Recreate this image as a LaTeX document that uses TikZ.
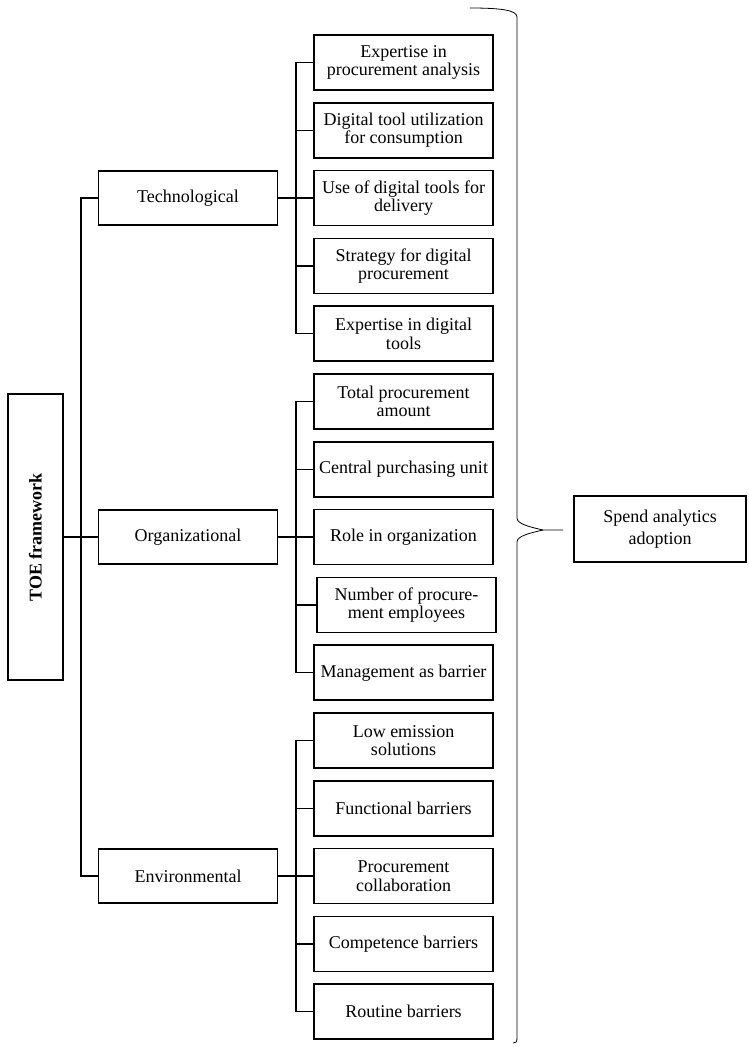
\documentclass[tikz,border=0pt]{standalone}
\usepackage{fontspec}
\setmainfont{Liberation Serif}
\usepackage{tikz}
\usetikzlibrary{positioning,calc}
\tikzset{
    leaf/.style={draw,line width=1.5pt,rectangle,minimum width=179pt,minimum height=55pt,inner xsep=1pt,align=center,font=\fontsize{18}{18.5}\selectfont},
    mid/.style={draw,line width=1.5pt,rectangle,minimum width=179pt,minimum height=54pt,align=center,font=\fontsize{18}{18.5}\selectfont},
    root/.style={draw,line width=1.5pt,rectangle,minimum width=286pt,minimum height=55pt,rotate=90,font=\fontsize{18}{18.5}\selectfont\bfseries},
    goal/.style={draw,line width=1.5pt,rectangle,minimum width=172pt,minimum height=66pt,align=center,font=\fontsize{18}{21.5}\selectfont},
    line/.style={-,line width=1.5pt},
    brace/.style={-,line width=0.8pt},
}
\begin{document}
\begin{tikzpicture}[x=1pt,y=1pt]
                \useasboundingbox (0,0) rectangle (748,-1047);
                % technological factors
                \node[leaf] (t1) at (403.5,-62.5) {Expertise in\\procurement analysis};
                \node[leaf,below=11.3pt of t1] (t2) {Digital tool utilization\\for consumption};
                \node[leaf,below=11.3pt of t2] (t3) {Use of digital tools for\\delivery};
                \node[leaf,below=11.3pt of t3] (t4) {Strategy for digital\\procurement};
                \node[leaf,below=11.3pt of t4] (t5) {Expertise in digital\\tools};
                % organizational factors
                \node[leaf,below=11.3pt of t5] (o1) {Total procurement\\amount};
                \node[leaf,below=11.3pt of o1] (o2) {Central purchasing unit};
                \node[leaf,below=11.3pt of o2] (o3) {Role in organization};
                \node[leaf,below=11.3pt of o3,xshift=3pt] (o4) {Number of procure-\\ment employees};
                \node[leaf,below=11.3pt of o4,xshift=-3pt] (o5) {Management as barrier};
                % environmental factors
                \node[leaf,below=11.3pt of o5] (e1) {Low emission\\solutions};
                \node[leaf,below=11.3pt of e1] (e2) {Functional barriers};
                \node[leaf,below=11.3pt of e2] (e3) {Procurement\\collaboration};
                \node[leaf,below=11.3pt of e3] (e4) {Competence barriers};
                \node[leaf,below=11.3pt of e4] (e5) {Routine barriers};
                % dimensions
                \node[mid,left=35pt of t3] (tech) {Technological};
                \node[mid,left=35pt of o3] (org) {Organizational};
                \node[mid,left=35pt of e3] (env) {Environmental};
                \node[root,left=34pt of org,anchor=south] (toe) {TOE framework};
                \node[goal] (spend) at (660,-529) {Spend analytics\\adoption};
                % trunks
                \coordinate (lt) at ($(toe.south)!0.5!(org.west)$);
                \coordinate (tb) at ($(tech.east)!0.5!(t3.west)$);
                \coordinate (ob) at ($(org.east)!0.5!(o3.west)$);
                \coordinate (eb) at ($(env.east)!0.5!(e3.west)$);
                \draw[line] (toe.south) -- (org.west);
                \draw[line] (tech.west) -| (lt) |- (env.west);
                \draw[line] (tech.east) -- (t3.west);
                \draw[line] (t1.west) -| (tb) |- (t5.west);
                \draw[line] (tb) |- (t2.west);
                \draw[line] (tb) |- (t4.west);
                \draw[line] (org.east) -- (o3.west);
                \draw[line] (o1.west) -| (ob) |- (o5.west);
                \draw[line] (ob) |- (o2.west);
                \draw[line] (ob) |- (o4.west);
                \draw[line] (env.east) -- (e3.west);
                \draw[line] (e1.west) -| (eb) |- (e5.west);
                \draw[line] (eb) |- (e2.west);
                \draw[line] (eb) |- (e4.west);
                % brace
                \coordinate (brtip) at (563,-530);
                \draw[brace] (470,-8) .. controls (500,-8) and (517,-10) .. (517,-17)
                    -- (517,-518) .. controls (517,-524) and (530,-527) .. (543,-530) -- (brtip);
                \draw[brace] (543,-530) .. controls (530,-533) and (517,-536) .. (517,-542)
                    -- (517,-1038) .. controls (517,-1042) and (516,-1043) .. (513,-1043);
            \end{tikzpicture}
\end{document}
